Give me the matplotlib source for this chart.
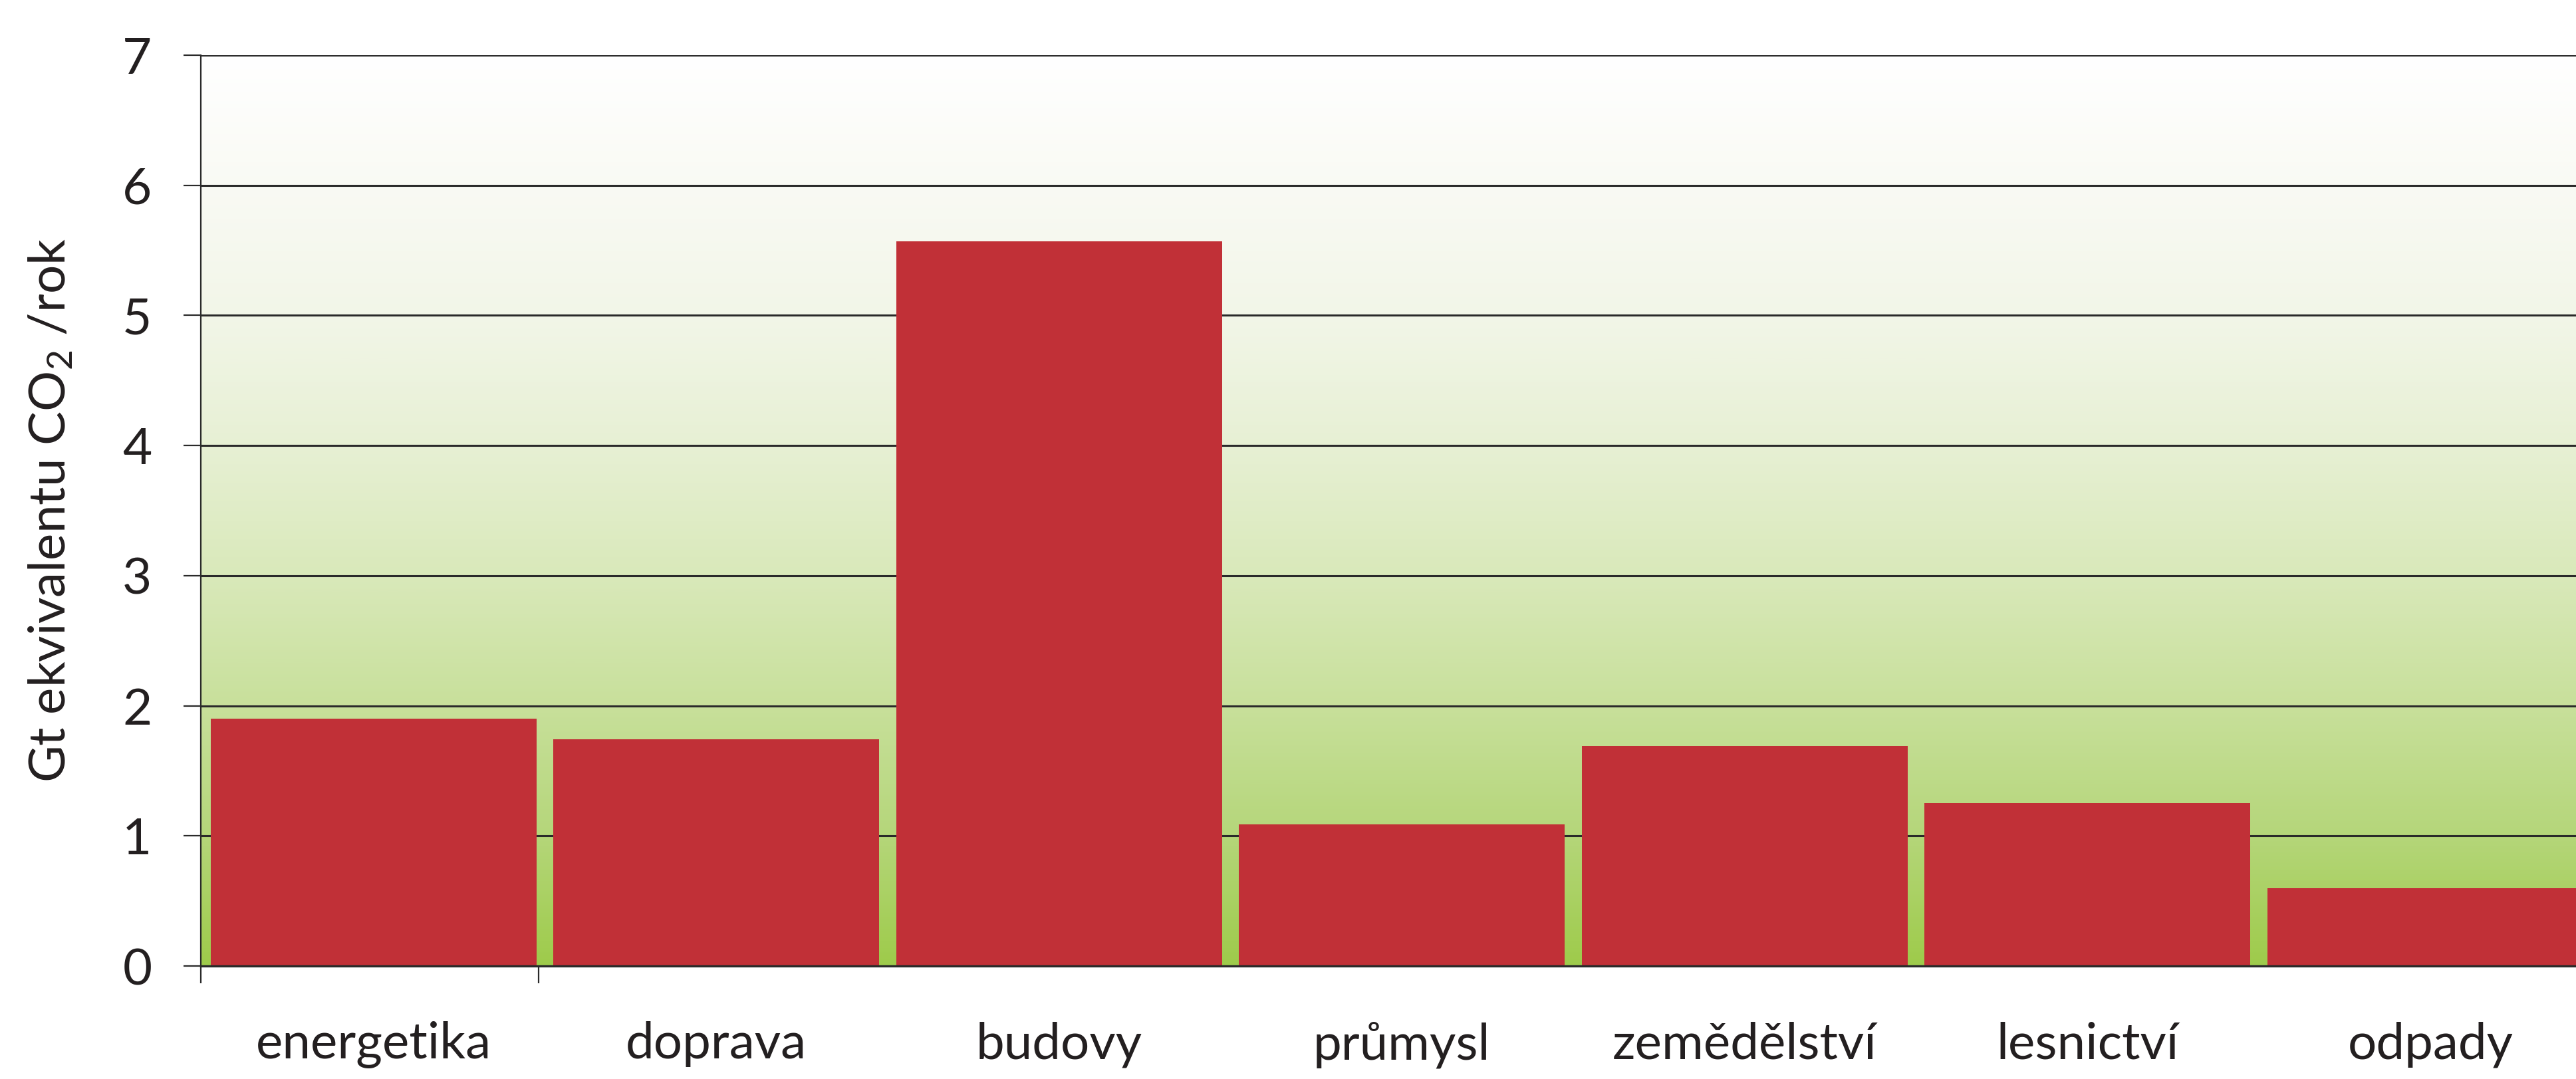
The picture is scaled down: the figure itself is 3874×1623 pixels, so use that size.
import matplotlib
matplotlib.use("Agg")
import matplotlib.pyplot as plt
import numpy as np
from matplotlib.colors import LinearSegmentedColormap

# ---- data ----
categories = ["energetika", "doprava", "budovy", "průmysl", "zemědělství", "lesnictví", "odpady"]
values = [1.90, 1.74, 5.57, 1.09, 1.69, 1.25, 0.60]
y_ticks = [0, 1, 2, 3, 4, 5, 6, 7]
y_label = "Gt ekvivalentu CO$_2$ /rok"

plt.rcParams['font.family'] = ['Lato', 'DejaVu Sans']
plt.rcParams['mathtext.fontset'] = 'custom'
plt.rcParams['mathtext.rm'] = 'Lato'
plt.rcParams['mathtext.it'] = 'Lato:italic'
plt.rcParams['mathtext.bf'] = 'Lato:bold'

W, H = 3874, 1623
fig = plt.figure(figsize=(W / 100, H / 100), dpi=100)
fig.patch.set_facecolor('white')

left_px, right_px = 302, 302 + 7 * 515.5
top_px, bottom_px = 83, 1453
ax = fig.add_axes([left_px / W, 1 - bottom_px / H, (right_px - left_px) / W, (bottom_px - top_px) / H])

x = np.arange(len(categories))
xlim = (-0.504, -0.504 + 7)
ax.set_xlim(*xlim)
ax.set_ylim(0, 7)

# background gradient (white top -> green bottom)
grad_cmap = LinearSegmentedColormap.from_list(
    "bg",
    [(0.0, (158/255, 203/255, 75/255)),
     (1/7, (181/255, 214/255, 122/255)),
     (2/7, (200/255, 224/255, 155/255)),
     (3/7, (217/255, 233/255, 186/255)),
     (4/7, (231/255, 240/255, 212/255)),
     (5/7, (242/255, 246/255, 232/255)),
     (6/7, (249/255, 250/255, 244/255)),
     (1.0, (255/255, 255/255, 255/255))])
grad = np.linspace(0, 1, 512).reshape(-1, 1)
ax.imshow(grad, cmap=grad_cmap, origin='lower', aspect='auto',
          extent=(xlim[0], xlim[1], 0, 7), zorder=0, interpolation='bilinear')

ax.bar(x, values, width=0.95, color='#C13037', zorder=3, linewidth=0)

# gridlines
for yv in y_ticks[1:]:
    ax.axhline(yv, color='#2a2a2a', lw=2.2, zorder=2)

for s in ['top', 'right']:
    ax.spines[s].set_visible(False)
ax.spines['left'].set_color('#2a2a2a')
ax.spines['left'].set_linewidth(1.6)
ax.spines['left'].set_zorder(5)
ax.spines['bottom'].set_color('#2a2a2a')
ax.spines['bottom'].set_linewidth(2.4)
ax.spines['bottom'].set_zorder(5)

ax.set_yticks(y_ticks)
ax.set_yticklabels([str(v) for v in y_ticks])
ax.tick_params(axis='y', direction='out', length=19, width=1.6, color='#2a2a2a',
               labelsize=55, pad=34, labelcolor='#231F20')

ax.set_xticks(x)
ax.set_xticklabels(categories)
ax.tick_params(axis='x', which='major', length=0, labelsize=55, pad=60, labelcolor='#231F20')
ax.set_xticks([-0.504, 0.482], minor=True)
ax.tick_params(axis='x', which='minor', direction='out', length=19, width=1.6, color='#2a2a2a')

ax.set_ylabel(y_label, fontsize=55, color='#231F20')
ax.yaxis.set_label_coords(-(302 - 112) / (right_px - left_px), 0.5)

fig.savefig("out.png", dpi=100, facecolor='white')
